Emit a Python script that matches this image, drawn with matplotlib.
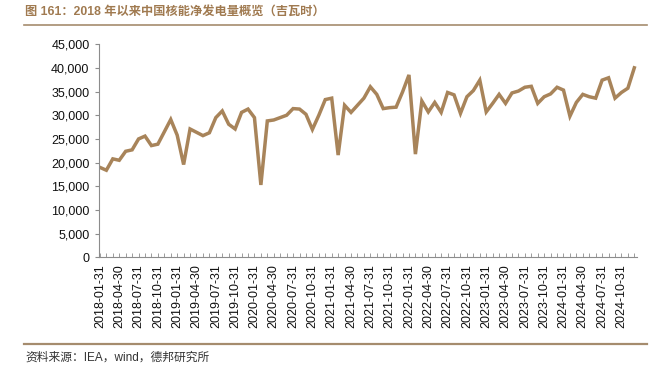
import matplotlib
matplotlib.use("Agg")
import matplotlib.pyplot as plt
from matplotlib.ticker import FuncFormatter, MultipleLocator
import pandas as pd

plt.rcParams['font.family'] = ['Liberation Sans', 'Noto Sans CJK SC', 'DejaVu Sans']

# monthly net nuclear generation, GWh
months = pd.date_range("2018-01-31", "2024-12-31", freq="ME")
gen_2018 = [19000, 18400, 20800, 20500, 22400, 22700, 25000, 25600, 23600, 23900, 26500, 29100]
gen_2019 = [25800, 19600, 27100, 26400, 25700, 26300, 29500, 30900, 28100, 27100, 30600, 31300]
gen_2020 = [29500, 15300, 28800, 29000, 29500, 30000, 31400, 31300, 30200, 27000, 30000, 33300]
gen_2021 = [33600, 21600, 32100, 30600, 32100, 33600, 36000, 34400, 31400, 31600, 31700, 34900]
gen_2022 = [38500, 21800, 33000, 30700, 32700, 30600, 34800, 34300, 30400, 33900, 35200, 37400]
gen_2023 = [30700, 32500, 34400, 32500, 34700, 35100, 35900, 36100, 32500, 33900, 34500, 35900]
gen_2024 = [35300, 29800, 32700, 34400, 33900, 33600, 37400, 37900, 33600, 34800, 35700, 40000]
values = gen_2018 + gen_2019 + gen_2020 + gen_2021 + gen_2022 + gen_2023 + gen_2024

title = "图 161：2018 年以来中国核能净发电量概览（吉瓦时）"
source = "资料来源：IEA，wind，德邦研究所"

brown = "#A8845A"
rule = "#A58C6E"
axis_grey = "#8C8C8C"

fig = plt.figure(figsize=(6.69, 3.77), dpi=100)
ax = fig.add_axes([0.1484, 0.317, 0.8036, 0.566])

x = list(range(len(values)))
ax.plot(x, values, color=brown, linewidth=2.5, solid_joinstyle="miter")

ax.set_ylim(0, 45000)
ax.set_xlim(-0.1, 83.4)
ax.yaxis.set_major_locator(MultipleLocator(5000))
ax.yaxis.set_major_formatter(FuncFormatter(lambda v, p: f"{int(v):,}"))

ax.set_xticks(x[::3])
ax.set_xticklabels([d.strftime("%Y-%m-%d") for d in months[::3]], rotation=90)
ax.set_xticks(x, minor=True)

for side in ["top", "right"]:
    ax.spines[side].set_visible(False)
for side in ["left", "bottom"]:
    ax.spines[side].set_color(axis_grey)
    ax.spines[side].set_linewidth(0.8)

ax.tick_params(axis="y", direction="out", length=3, width=0.8, color=axis_grey,
               labelsize=9, pad=4, labelcolor="#111111")
ax.tick_params(axis="x", which="both", direction="in", length=2.8, width=0.6,
               color=axis_grey, labelsize=9, pad=5, labelcolor="#111111")

# title and source
fig.text(0.038, 0.968, title, fontsize=8.8, fontweight="bold", color="#A07A50",
         va="center", ha="left", family=["Liberation Sans", "Noto Sans CJK SC"])
fig.add_artist(plt.Line2D([0.036, 0.967], [0.935, 0.935], color=rule, linewidth=1.2))
fig.add_artist(plt.Line2D([0.036, 0.967], [0.088, 0.088], color=rule, linewidth=1.6))
fig.text(0.038, 0.052, source, fontsize=8.5, color="#333333", va="center", ha="left",
         family=["Liberation Sans", "Noto Sans CJK SC"])

fig.savefig("out.png", dpi=100)
